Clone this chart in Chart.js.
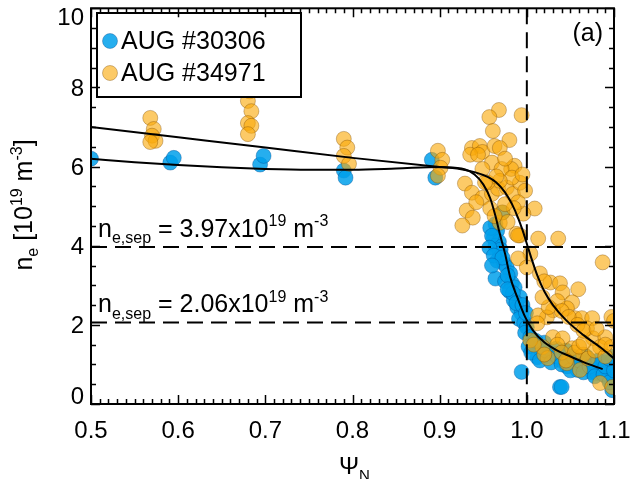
<!DOCTYPE html>
<html>
<head>
<meta charset="utf-8">
<script src="https://cdn.jsdelivr.net/npm/chart.js@4/dist/chart.umd.min.js"></script>
<style>
body{margin:0;background:#fff;}
#wrap{width:631px;height:479px;}
</style>
</head>
<body>
<div id="wrap"><canvas id="neChart" width="631" height="479"></canvas></div>
<script>
// series names
let seriesNames = ['AUG #30306', 'AUG #34971'];

// AUG #30306 (blue)
let blueX = [0.5,0.591,0.595,0.694,0.698,0.79,0.792,0.891,0.895,
  0.964,0.966,0.962,0.968,0.964,0.970,0.969,0.966,0.974,0.977,0.964,0.981,0.975,0.983,0.986,0.980,
  0.992,0.985,0.989,0.994,0.991,0.997,1.000,0.998,1.004,1.007,1.002,1.012,1.015,1.017,1.020,1.024,
  1.030,1.034,1.038,1.042,1.050,1.046,1.055,1.058,1.062,1.069,1.072,1.075,1.080,1.085,1.088,1.092,
  1.095,1.098,1.100,1.098,0.994,1.038,1.040,0.972,
  0.958,0.960,0.957,0.962,0.972,0.978,0.984,0.988,0.995,0.999,0.978,0.960,
  1.005,1.010,1.015,1.022,1.028,1.035,1.040,1.045,1.050,1.053,1.060,1.065,1.068,1.072,1.078,1.082,
  1.088,1.090,1.095,1.100,1.100,1.094];
let blueY = [6.2,6.1,6.22,6.05,6.27,5.9,5.72,6.17,5.72,
  4.55,4.38,4.2,4.1,4.0,3.9,3.8,3.62,3.55,3.45,3.17,3.3,3.1,3.05,2.95,2.85,
  2.7,2.62,2.44,2.29,2.15,2.05,1.94,1.8,1.69,1.54,1.45,1.18,1.44,1.3,1.55,1.2,
  1.28,1.4,1.11,1.25,1.03,0.95,1.15,0.86,1.0,0.93,1.1,0.8,0.78,0.95,1.05,0.68,
  1.03,0.35,0.6,0.85,0.81,0.43,0.43,4.84,
  4.45,4.25,3.95,3.75,3.7,3.25,2.8,2.55,2.5,2.3,2.9,3.5,
  1.3,1.6,1.1,1.35,1.05,1.2,1.0,1.35,0.85,1.2,1.1,0.8,1.2,0.95,0.7,1.1,
  0.75,0.95,0.55,1.2,0.85,1.15];

// AUG #34971 (orange)
let orangeX = [0.568,0.572,0.570,0.574,0.568,0.682,0.680,0.684,0.680,0.684,0.680,
  0.790,0.794,0.790,0.796,0.898,0.903,0.901,0.898,
  0.968,0.957,0.994,0.961,0.980,0.937,0.946,0.949,0.963,0.969,0.935,0.986,0.982,0.960,0.971,0.949,
  0.929,0.937,0.949,0.960,0.967,0.977,0.984,0.992,0.983,0.969,0.998,1.009,0.931,0.938,0.958,0.926,
  0.969,0.996,0.992,0.988,1.013,1.036,0.972,0.990,1.004,0.990,1.087,1.000,1.015,1.027,1.038,1.059,
  1.041,1.052,1.046,1.030,1.023,1.013,1.012,1.055,1.063,1.075,1.069,1.076,1.090,1.097,1.030,1.041,
  1.018,1.052,1.024,1.046,1.061,1.084,1.098,1.004,1.084,1.097,1.065,
  1.008,1.020,1.035,1.040,1.055,1.060,1.070,1.078,1.090,1.045,1.065,
  1.020,1.035,1.040,1.048,1.058,1.065,1.080,1.090,1.100,1.025,1.018,
  0.955,0.965,0.975,0.990,0.985,0.975,0.952,0.944,0.942,0.995,0.978,0.963];
let orangeY = [7.23,6.95,6.78,6.65,6.62,7.9,7.66,7.4,7.1,7.03,6.82,
  6.7,6.48,6.27,6.07,6.4,6.17,5.97,5.77,
  7.43,7.25,7.3,6.9,6.67,6.47,6.52,6.37,6.52,6.47,6.3,6.02,5.94,6.1,5.94,5.94,
  5.57,5.34,5.21,5.31,5.44,5.47,5.31,5.59,5.72,5.64,5.39,4.94,4.89,4.71,4.94,4.51,
  4.58,4.81,4.26,4.3,4.18,4.18,4.84,4.26,3.8,3.68,3.58,3.45,3.3,3.07,3.05,2.9,
  2.82,2.57,2.42,2.37,2.19,2.24,2.04,2.17,2.17,2.17,1.91,1.66,1.69,2.2,1.69,1.66,
  1.44,1.41,1.16,1.03,0.86,0.53,0.43,1.61,1.44,1.44,1.25,
  1.5,1.25,1.5,1.3,1.3,1.45,1.15,1.35,1.2,1.1,1.55,
  3.1,2.6,2.35,2.2,2.0,1.85,1.9,1.5,2.1,2.45,2.7,
  5.6,5.75,6.2,5.1,4.95,5.05,5.6,6.3,5.1,5.8,4.6,4.75];

// fit curves
let fitOrangeX = [0.5,0.6,0.7,0.8,0.9,0.92,0.94,0.955,0.965,0.975,0.983,0.99,0.995,1.0,1.005,1.012,1.02,1.03,1.045,1.065,1.085,1.1];
let fitOrangeY = [7.0,6.74,6.48,6.22,5.99,5.95,5.86,5.74,5.6,5.35,5.05,4.7,4.4,4.05,3.7,3.25,2.85,2.5,2.12,1.74,1.42,1.15];
let fitBlueX = [0.5,0.55,0.6,0.65,0.7,0.75,0.8,0.85,0.9,0.925,0.94,0.95,0.958,0.964,0.969,0.975,0.981,0.989,0.998,1.007,1.02,1.035,1.05,1.065,1.087];
let fitBlueY = [6.2,6.11,6.04,5.98,5.94,5.92,5.92,5.95,5.99,5.95,5.8,5.55,5.2,4.75,4.3,3.8,3.2,2.7,2.2,1.86,1.56,1.35,1.2,1.06,0.88];

// separatrix values
let sepHigh = 3.97;
let sepLow = 2.06;
let sepPsi = 1.0;

// axes
let xTickValues = [0.5,0.6,0.7,0.8,0.9,1.0,1.1];
let xTickLabels = ['0.5','0.6','0.7','0.8','0.9','1.0','1.1'];
let yTickValues = [0,2,4,6,8,10];
let yTickLabels = ['0','2','4','6','8','10'];

const FONT = '"Liberation Sans", Arial, sans-serif';
const blueFill = 'rgba(0,160,235,0.85)';
const orangeFill = 'rgba(250,170,10,0.62)';

function toPoints(xs, ys){
    let pts = [];
    for(let i = 0; i < xs.length; i++){
        pts.push({x: xs[i], y: ys[i]});
    }
    return pts;
}

function richText(ctx, x, y, parts, size, align){
    let small = Math.round(size * 0.62);
    let w = 0;
    parts.forEach(p => {
        ctx.font = (p[1] ? small : size) + 'px ' + FONT;
        w += ctx.measureText(p[0]).width;
    });
    let cx = align === 'center' ? x - w / 2 : x;
    parts.forEach(p => {
        ctx.font = (p[1] ? small : size) + 'px ' + FONT;
        let dy = p[1] === 'sub' ? size * 0.25 : (p[1] === 'sup' ? -size * 0.42 : 0);
        ctx.fillText(p[0], cx, y + dy);
        cx += ctx.measureText(p[0]).width;
    });
}

const framePlugin = {
    id: 'frame',
    afterDatasetsDraw(chart){
        let ctx = chart.ctx;
        let xs = chart.scales.x, ys = chart.scales.y, a = chart.chartArea;
        ctx.save();
        // legend box
        ctx.fillStyle = '#fff';
        ctx.fillRect(97, 13, 204, 84);
        ctx.strokeStyle = '#000';
        ctx.lineWidth = 2;
        ctx.strokeRect(97, 13, 204, 84);
        let legendFills = [blueFill, orangeFill];
        let legendBorders = ['rgba(0,70,140,0.45)', 'rgba(120,70,0,0.45)'];
        seriesNames.forEach((name, i) => {
            let yy = 41 + i * 32;
            ctx.beginPath();
            ctx.arc(110, yy, 7.5, 0, Math.PI * 2);
            ctx.fillStyle = legendFills[i];
            ctx.fill();
            ctx.strokeStyle = legendBorders[i];
            ctx.lineWidth = 0.8;
            ctx.stroke();
            ctx.fillStyle = '#000';
            ctx.font = '25px ' + FONT;
            ctx.textAlign = 'left';
            ctx.textBaseline = 'alphabetic';
            ctx.fillText(name, 121, yy + 8);
        });

        // frame
        ctx.strokeStyle = '#000';
        ctx.lineWidth = 2;
        ctx.strokeRect(a.left, a.top, a.right - a.left, a.bottom - a.top);
        ctx.lineWidth = 1.5;
        ctx.beginPath();
        for(let i = 0; i <= 60; i++){
            let px = Math.round(xs.getPixelForValue(0.5 + i * 0.01)) + 0.5;
            let len = i % 10 === 0 ? 9 : 5;
            ctx.moveTo(px, a.bottom); ctx.lineTo(px, a.bottom - len);
            ctx.moveTo(px, a.top); ctx.lineTo(px, a.top + len);
        }
        for(let i = 0; i <= 20; i++){
            let py = Math.round(ys.getPixelForValue(i * 0.5)) + 0.5;
            let len = i % 4 === 0 ? 9 : 5;
            ctx.moveTo(a.left, py); ctx.lineTo(a.left + len, py);
            ctx.moveTo(a.right, py); ctx.lineTo(a.right - len, py);
        }
        ctx.stroke();

        // tick labels
        ctx.fillStyle = '#000';
        ctx.font = '24px ' + FONT;
        ctx.textAlign = 'center';
        ctx.textBaseline = 'alphabetic';
        xTickValues.forEach((v, i) => {
            ctx.fillText(xTickLabels[i], xs.getPixelForValue(v), 438);
        });
        ctx.textAlign = 'right';
        yTickValues.forEach((v, i) => {
            let py = ys.getPixelForValue(v) + 8.5;
            py = Math.min(py, a.bottom);
            py = Math.max(py, a.top + 17);
            ctx.fillText(yTickLabels[i], a.left - 7, py);
        });

        // titles
        ctx.textAlign = 'left';
        richText(ctx, 339, 474, [['\u03A8'], ['N', 'sub']], 24, 'left');
        ctx.save();
        ctx.translate(32, 205);
        ctx.rotate(-Math.PI / 2);
        richText(ctx, 0, 0, [['n'], ['e', 'sub'], [' [10'], ['19', 'sup'], [' m'], ['-3', 'sup'], [']']], 25, 'center');
        ctx.restore();

        // separatrix annotations
        [sepHigh, sepLow].forEach(v => {
            let by = ys.getPixelForValue(v) - 10;
            richText(ctx, 98, by, [['n'], ['e,sep', 'sub'], [' = ' + v.toFixed(2) + 'x10'], ['19', 'sup'], [' m'], ['-3', 'sup']], 25, 'left');
        });

        // panel label
        ctx.font = '25px ' + FONT;
        ctx.textAlign = 'right';
        ctx.fillText('(a)', 603, 41);
        ctx.restore();
    }
};

let ctx = document.getElementById('neChart');
new Chart(ctx, {
    type: 'scatter',
    data: {
        datasets: [
            {
                label: 'sep high',
                data: [{x: 0.5, y: sepHigh}, {x: 1.1, y: sepHigh}],
                showLine: true, pointRadius: 0, borderColor: '#000', borderWidth: 2,
                borderDash: [16, 8], order: 0
            },
            {
                label: 'sep low',
                data: [{x: 0.5, y: sepLow}, {x: 1.1, y: sepLow}],
                showLine: true, pointRadius: 0, borderColor: '#000', borderWidth: 2,
                borderDash: [16, 8], order: 0
            },
            {
                label: 'psi sep',
                data: [{x: sepPsi, y: 10}, {x: sepPsi, y: 0}],
                showLine: true, pointRadius: 0, borderColor: '#000', borderWidth: 2,
                borderDash: [16, 8], order: 0
            },
            {
                label: 'fit 34971',
                data: toPoints(fitOrangeX, fitOrangeY),
                showLine: true, pointRadius: 0, borderColor: '#000', borderWidth: 2,
                cubicInterpolationMode: 'monotone', order: 1
            },
            {
                label: 'fit 30306',
                data: toPoints(fitBlueX, fitBlueY),
                showLine: true, pointRadius: 0, borderColor: '#000', borderWidth: 2,
                cubicInterpolationMode: 'monotone', order: 1
            },
            {
                label: seriesNames[1],
                data: toPoints(orangeX, orangeY),
                pointRadius: 7.5,
                backgroundColor: orangeFill,
                borderColor: 'rgba(120,70,0,0.45)',
                borderWidth: 0.8,
                order: 2
            },
            {
                label: seriesNames[0],
                data: toPoints(blueX, blueY),
                pointRadius: 7.5,
                backgroundColor: blueFill,
                borderColor: 'rgba(0,70,140,0.45)',
                borderWidth: 0.8,
                order: 3
            }
        ]
    },
    options: {
        responsive: false,
        animation: false,
        devicePixelRatio: 1,
        layout: {padding: {left: 91, top: 7, right: 17, bottom: 75}},
        scales: {
            x: {type: 'linear', min: 0.5, max: 1.1, display: false},
            y: {type: 'linear', min: 0, max: 10, display: false}
        },
        plugins: {
            legend: {display: false},
            tooltip: {enabled: false}
        }
    },
    plugins: [framePlugin]
});
</script>
</body>
</html>
